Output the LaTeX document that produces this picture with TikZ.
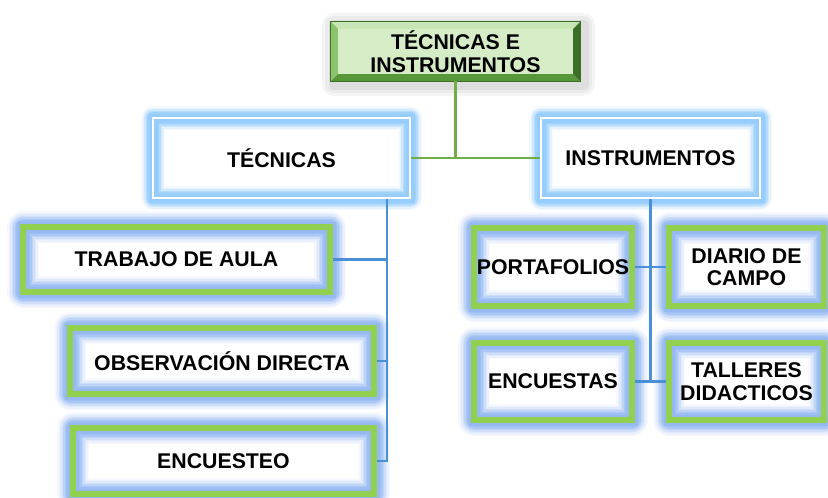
\documentclass[tikz,border=0pt]{standalone}
\usepackage{fontspec}
\setmainfont{Liberation Sans}
\usetikzlibrary{calc}

\definecolor{glowblue}{RGB}{150,185,242}
\definecolor{skyglow}{RGB}{150,205,252}
\definecolor{leafgreen}{RGB}{146,208,80}
\definecolor{linkblue}{RGB}{74,144,217}
\definecolor{linkgreen}{RGB}{112,173,71}
\definecolor{topfill}{RGB}{214,236,199}
\definecolor{bevlite}{RGB}{200,230,180}
\definecolor{bevmid}{RGB}{140,196,108}
\definecolor{bevdark}{RGB}{88,150,58}
\definecolor{bevedge}{RGB}{60,110,40}

\begin{document}
\begin{tikzpicture}[x=1pt,y=-1pt,
  every node/.style={font=\bfseries\fontsize{21.3}{22.5}\selectfont,align=center,inner sep=0pt},
  leafbox/.style={minimum width=#1,
    preaction={fill=white},
    preaction={draw=glowblue!8,line width=32pt,line join=round},
    preaction={draw=glowblue!18,line width=29pt,line join=round},
    preaction={draw=glowblue!30,line width=26pt,line join=round},
    preaction={draw=glowblue!45,line width=23pt,line join=round},
    preaction={draw=glowblue!62,line width=20pt,line join=round},
    preaction={draw=glowblue!80,line width=17pt,line join=round},
    preaction={draw=glowblue!92,line width=14pt,line join=round},
    preaction={draw=glowblue,line width=11pt},
    draw=leafgreen,line width=6pt},
  headbox/.style={minimum width=#1,minimum height=80pt,
    preaction={fill=white},
    preaction={draw=skyglow!10,line width=24pt,line join=round},
    preaction={draw=skyglow!25,line width=21pt,line join=round},
    preaction={draw=skyglow!45,line width=18pt,line join=round},
    preaction={draw=skyglow!70,line width=15pt,line join=round},
    preaction={draw=skyglow!90,line width=12pt,line join=round},
    preaction={draw=skyglow,line width=9pt},
    draw=white,line width=1.6pt},
  topbox/.style={minimum width=249pt,minimum height=59pt,fill=topfill,
    preaction={draw=black!4,line width=24pt,line join=round,transform canvas={shift={(3pt,-3pt)}}},
    preaction={draw=black!8,line width=18pt,line join=round,transform canvas={shift={(3pt,-3pt)}}},
    preaction={draw=black!13,line width=11pt,line join=round,transform canvas={shift={(3pt,-3pt)}}}},
  linkb/.style={draw=linkblue,line width=2.6pt},
  linkg/.style={draw=linkgreen,line width=2.6pt}]

\useasboundingbox (0,0) rectangle (828,498);

% root
\node[topbox] (root) at (455.5,51.5) {};
\fill[bevlite] (root.north west) -- (root.north east) -- ([shift={(-7,7)}]root.north east) -- ([shift={(7,7)}]root.north west) -- cycle;
\fill[bevmid] (root.north west) -- (root.south west) -- ([shift={(7,-7)}]root.south west) -- ([shift={(7,7)}]root.north west) -- cycle;
\fill[bevdark] (root.south west) -- (root.south east) -- ([shift={(-7,-7)}]root.south east) -- ([shift={(7,-7)}]root.south west) -- cycle;
\fill[bevedge] (root.north east) -- (root.south east) -- ([shift={(-7,-7)}]root.south east) -- ([shift={(-7,7)}]root.north east) -- cycle;
\draw[bevedge,line width=1pt] (root.north west) rectangle (root.south east);
\node at (root) {TÉCNICAS E\\INSTRUMENTOS};

% second level
\node[headbox=257pt] (tec) at (281.5,158) {TÉCNICAS};
\node[headbox=219pt] (ins) at (650.5,158) {INSTRUMENTOS};

% tecnicas
\node[leafbox=307pt,minimum height=65pt] (aula) at (176.5,259.5) {TRABAJO DE AULA};
\node[leafbox=304pt,minimum height=66pt] (obs) at (222,361) {OBSERVACIÓN DIRECTA};
\node[leafbox=301pt,minimum height=66pt] (encst) at (223.5,461) {ENCUESTEO};

% instrumentos
\node[leafbox=158pt,minimum height=78pt] (port) at (553,267) {PORTAFOLIOS};
\node[leafbox=155pt,minimum height=78pt] (diario) at (746.5,267) {DIARIO DE\\CAMPO};
\node[leafbox=158pt,minimum height=77pt] (enc) at (553,381.5) {ENCUESTAS};
\node[leafbox=155pt,minimum height=77pt] (taller) at (746.5,381.5) {TALLERES\\DIDACTICOS};

% links
\draw[linkg] (root.south) -- (root.south |- tec.east);
\draw[linkg] (tec.east) -- (ins.west);

\coordinate (tb) at ([xshift=105.5pt]tec.south);
\draw[linkb] (tb) -- (tb |- encst.east) -- (encst.east);
\draw[linkb] (aula.east) -- (aula.east -| tb);
\draw[linkb] (obs.east) -- (obs.east -| tb);

\draw[linkb] (ins.south) -- (ins.south |- enc.east);
\draw[linkb] (port.east) -- (diario.west);
\draw[linkb] (enc.east) -- (taller.west);

\end{tikzpicture}
\end{document}
